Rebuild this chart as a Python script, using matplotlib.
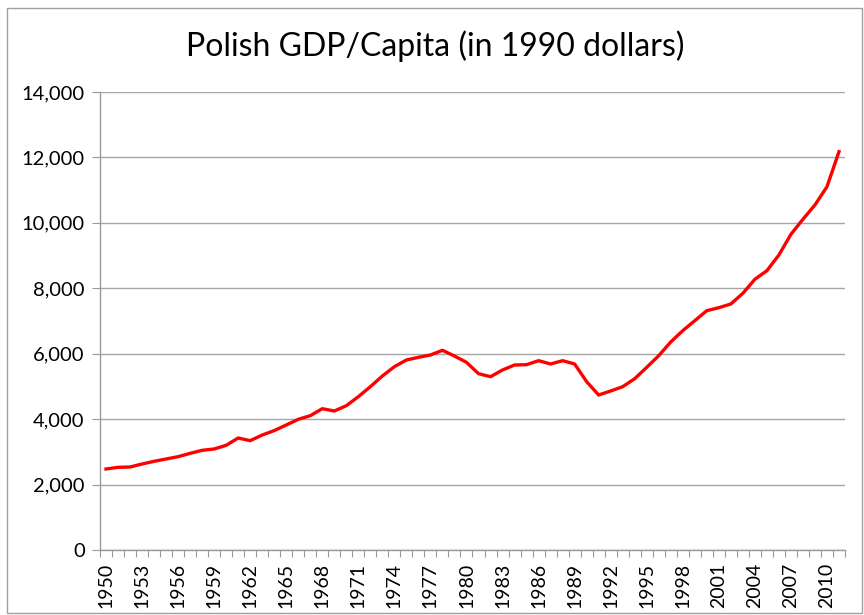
import numpy as np
import matplotlib
matplotlib.use("Agg")
import matplotlib.pyplot as plt
from matplotlib.patches import Rectangle
from matplotlib.ticker import FuncFormatter

plt.rcParams['font.family'] = ['Lato', 'DejaVu Sans']

years = list(range(1950, 2012))
gdp = [2476, 2527, 2537, 2629, 2711, 2782, 2853, 2955, 3047, 3088,
       3200, 3424, 3342, 3515, 3650, 3821, 3995, 4106, 4320, 4249,
       4411, 4687, 4992, 5319, 5604, 5808, 5890, 5961, 6104, 5930,
       5737, 5390, 5298, 5503, 5655, 5665, 5787, 5686, 5787, 5686,
       5145, 4738, 4861, 4992, 5237, 5584, 5940, 6359, 6705, 7010,
       7316, 7407, 7520, 7847, 8275, 8538, 9018, 9650, 10109, 10547,
       11106, 12176]

grey = '#999999'

fig = plt.figure(figsize=(8.64, 6.15), dpi=100)
ax = fig.add_axes([100/864, 1 - 550/615, 745/864, 458/615])

x = np.arange(len(years))
ax.plot(x, gdp, color='#ff0000', lw=2.4, solid_joinstyle='round')

ax.set_xlim(-0.5, len(years) - 0.5)
ax.set_ylim(0, 14000)
ax.set_yticks(np.arange(0, 14001, 2000))
ax.yaxis.set_major_formatter(FuncFormatter(lambda v, p: f'{int(v):,}'))
ax.grid(axis='y', color='#a6a6a6', lw=1)
ax.set_axisbelow(True)

# category boundaries get the tick marks, labels sit on every third category
ax.set_xticks(np.arange(-0.5, len(years), 1))
ax.set_xticklabels([])
ax.set_xticks(x[::3], minor=True)
ax.set_xticklabels([str(y) for y in years[::3]], minor=True, rotation=90)
ax.tick_params(axis='x', which='major', length=5, color=grey, direction='out')
ax.tick_params(axis='x', which='minor', length=0, pad=9, labelsize=14)
ax.tick_params(axis='y', length=6, color=grey, labelsize=14.5, pad=5)

for s in ['top', 'right']:
    ax.spines[s].set_visible(False)
for s in ['left', 'bottom']:
    ax.spines[s].set_color(grey)
    ax.spines[s].set_linewidth(1)

fig.text(435/864, 1 - 46/615, 'Polish GDP/Capita (in 1990 dollars)',
         ha='center', va='center', fontsize=23)

fig.patches.append(Rectangle((7/864, 2/615), 855/864, 605/615, transform=fig.transFigure,
                             fill=False, edgecolor='#a0a0a0', lw=1))

fig.savefig('out.png', dpi=100)
